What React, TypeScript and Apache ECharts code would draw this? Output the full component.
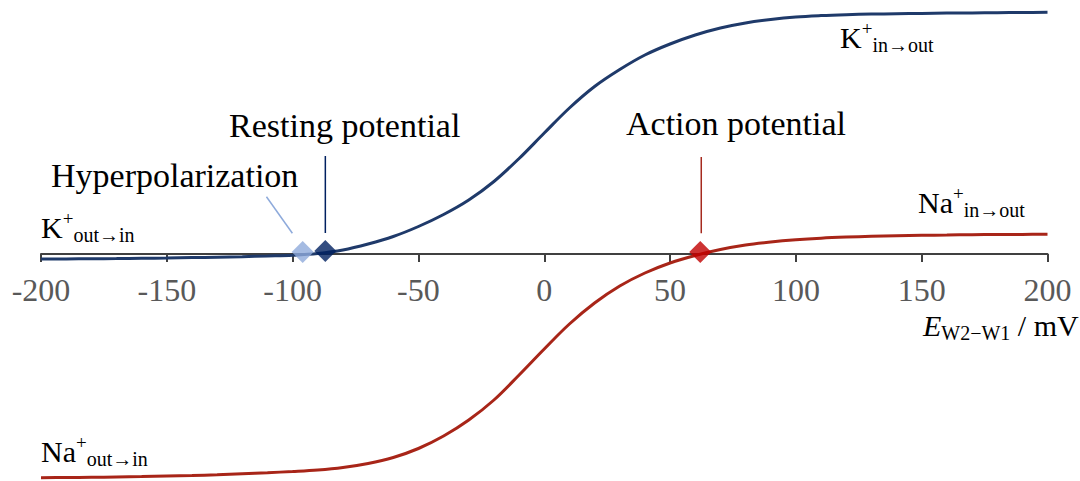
import React, { useEffect, useRef } from "react";
import * as echarts from "echarts";

// membrane potential E (mV), every 10 mV
const eX = [-200, -190, -180, -170, -160, -150, -140, -130, -120, -110, -100, -90, -80, -70, -60, -50, -40, -30, -20, -10, 0, 10, 20, 30, 40, 50, 60, 70, 80, 90, 100, 110, 120, 130, 140, 150, 160, 170, 180, 190, 200];
// K+ current (arbitrary units)
const kY = [-0.5, -0.49, -0.48, -0.46, -0.43, -0.4, -0.36, -0.32, -0.27, -0.2, -0.12, 0.05, 0.4, 1.0, 1.75, 2.75, 3.95, 5.4, 7.25, 9.55, 12.1, 14.6, 16.75, 18.45, 19.9, 21.0, 21.9, 22.6, 23.1, 23.45, 23.7, 23.84, 23.93, 23.99, 24.03, 24.06, 24.09, 24.11, 24.13, 24.15, 24.17];
// Na+ current (arbitrary units)
const naY = [-22.37, -22.35, -22.33, -22.3, -22.26, -22.2, -22.15, -22.08, -21.98, -21.87, -21.75, -21.6, -21.35, -20.95, -20.35, -19.45, -18.2, -16.6, -14.6, -12.1, -9.5, -7.0, -4.9, -3.2, -1.9, -0.9, -0.15, 0.45, 0.9, 1.2, 1.42, 1.58, 1.69, 1.77, 1.83, 1.87, 1.9, 1.93, 1.95, 1.96, 1.97];

const xTicks = [-200, -150, -100, -50, 0, 50, 100, 150, 200];

// marked potentials
const hyperX = -96, hyperY = 0.2;
const restX = -87, restY = 0.3;
const actionX = 62, actionY = 0.2;

// leader lines [x1,y1,x2,y2]
const hyperLeader = [-110.4, 5.73, -100.1, 2.07];
const restLeader = [-87, 9.8, -87, 2.1];
const actionLeader = [62.4, 9.7, 62.4, 2.07];

const SERIF = "'Times New Roman', 'Liberation Serif', 'DejaVu Serif', serif";

export default function App() {
  const ref = useRef<HTMLDivElement>(null);
  useEffect(() => {
    document.body.style.margin = "0";
    const chart = echarts.init(ref.current!, undefined, { renderer: "svg" });
    const kData = eX.map((x, i) => [x, kY[i]]);
    const naData = eX.map((x, i) => [x, naY[i]]);
    const leader = (l: number[], color: string, w: number) => ({
      type: "line",
      xAxisIndex: 0,
      yAxisIndex: 0,
      data: [[l[0], l[1]], [l[2], l[3]]],
      showSymbol: false,
      symbol: "none",
      lineStyle: { color, width: w },
      silent: true,
      z: 1,
    });
    const mainRich = (main: number) => ({
      m: { fontSize: main, fontFamily: SERIF, color: "#000", lineHeight: 36, verticalAlign: "middle" },
      sup: { fontSize: 19, fontFamily: SERIF, color: "#000", lineHeight: 30, verticalAlign: "top" },
      sub: { fontSize: 20, fontFamily: SERIF, color: "#000", lineHeight: 20, verticalAlign: "bottom" },
      i: { fontSize: main, fontFamily: SERIF, fontStyle: "italic", color: "#000", lineHeight: 36, verticalAlign: "middle" },
    });
    const ionLabel = (ion: string, sub: string, x: number, y: number) => ({
      type: "text",
      x,
      y,
      style: {
        text: `{m|${ion}}{sup|+}{sub|${sub}}`,
        rich: mainRich(30),
        verticalAlign: "top",
        align: "left",
      },
    });
    const plain = (text: string, x: number, y: number) => ({
      type: "text",
      x,
      y,
      style: { text, fontSize: 34, fontFamily: SERIF, fill: "#000", verticalAlign: "top", align: "left" },
    });
    const xBase = { type: "value", min: -200, max: 200, interval: 50, splitLine: { show: false } };
    chart.setOption({
      animation: false,
      backgroundColor: "#fff",
      grid: [
        { left: 41, right: 32.5, top: 4, bottom: 2, containLabel: false, outerBoundsMode: "none" },
        { left: 41, right: 32.5, top: 4, height: 250, containLabel: false, outerBoundsMode: "none" },
      ],
      xAxis: [
        { ...xBase, gridIndex: 0, show: false },
        {
          ...xBase,
          gridIndex: 1,
          position: "bottom",
          axisLine: { onZero: false, lineStyle: { color: "#404040", width: 2 } },
          axisTick: { show: true, inside: false, length: 8, lineStyle: { color: "#404040", width: 2 } },
          axisLabel: {
            margin: 20,
            fontSize: 32,
            fontFamily: SERIF,
            color: "#595959",
            formatter: (v: number) => (xTicks.includes(v) ? String(v) : ""),
          },
        },
      ],
      yAxis: [
        { type: "value", gridIndex: 0, min: -22.5, max: 25, show: false, splitLine: { show: false } },
        { type: "value", gridIndex: 1, min: 0, max: 1, show: false, splitLine: { show: false } },
      ],
      series: [
        leader(hyperLeader, "#8EAADB", 1.5),
        leader(restLeader, "#002060", 1.5),
        leader(actionLeader, "#A52A1E", 1.5),
        {
          type: "line",
          xAxisIndex: 0,
          yAxisIndex: 0,
          data: kData,
          smooth: 0.35,
          showSymbol: false,
          symbol: "none",
          clip: false,
          lineStyle: { color: "#1F3A6A", width: 3 },
          z: 2,
        },
        {
          type: "line",
          xAxisIndex: 0,
          yAxisIndex: 0,
          data: naData,
          smooth: 0.35,
          showSymbol: false,
          symbol: "none",
          clip: false,
          lineStyle: { color: "#A82518", width: 3 },
          z: 2,
        },
        {
          type: "scatter",
          xAxisIndex: 0,
          yAxisIndex: 0,
          symbol: "diamond",
          symbolSize: 22,
          z: 3,
          data: [
            { value: [hyperX, hyperY], itemStyle: { color: "#8EAADB" } },
            { value: [restX, restY], itemStyle: { color: "#002060" } },
            { value: [actionX, actionY], itemStyle: { color: "#C00000" } },
          ],
        },
      ],
      graphic: [
        plain("Hyperpolarization", 51, 158),
        plain("Resting potential", 229, 108),
        plain("Action potential", 626, 106),
        ionLabel("K", "in\u2192out", 840, 19),
        ionLabel("K", "out\u2192in", 41, 209),
        ionLabel("Na", "in\u2192out", 918, 184),
        ionLabel("Na", "out\u2192in", 41, 433),
        {
          type: "text",
          x: 923,
          y: 307,
          style: {
            text: "{i|E}{sub|W2\u2212W1}{m| / mV}",
            rich: mainRich(30),
            verticalAlign: "top",
            align: "left",
          },
        },
      ],
    });
    return () => chart.dispose();
  }, []);
  return <div ref={ref} style={{ position: "absolute", left: 0, top: 0, width: 1080, height: 481 }} />;
}
